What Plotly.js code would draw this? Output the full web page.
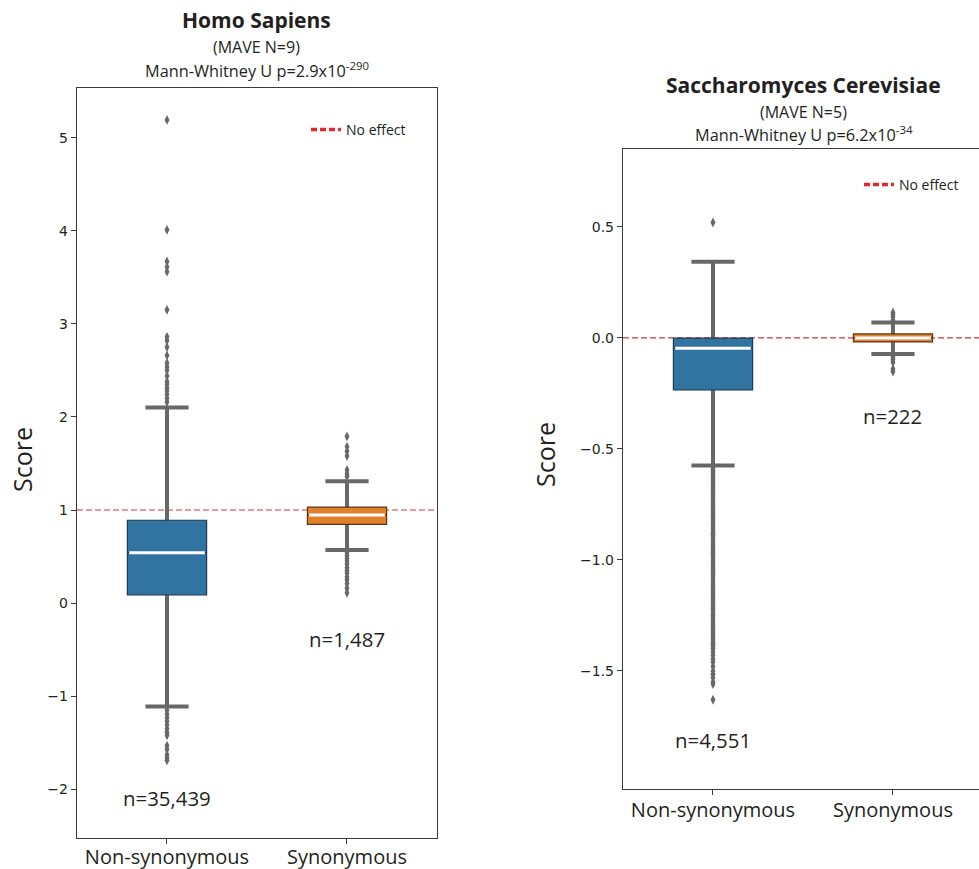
<!DOCTYPE html>
<html>
<head>
<meta charset="utf-8">
<script src="https://cdn.plot.ly/plotly-3.0.1.min.js"></script>
<style>html,body{margin:0;padding:0;background:#fff;}#chart{width:979px;height:869px;}</style>
</head>
<body>
<div id="chart"></div>
<script>
// ---------- data ----------
const categories = ['Non-synonymous', 'Synonymous'];

// Homo Sapiens
const hsQ1 = [0.087, 0.846];
const hsMedian = [0.54, 0.946];
const hsQ3 = [0.89, 1.03];
const hsLowerWhisker = [-1.11, 0.57];
const hsUpperWhisker = [2.10, 1.31];
const hsNonsynOutliers = [5.19, 4.01, 3.67, 3.61, 3.56, 3.15, 2.86, 2.82, 2.75, 2.66, 2.58, 2.54, 2.50, 2.44, 2.38, 2.35, 2.31, 2.28, 2.24, 2.20, 2.16,
  -1.15, -1.19, -1.23, -1.27, -1.31, -1.35, -1.39, -1.42, -1.53, -1.57, -1.63, -1.66, -1.69];
const hsSynOutliers = [1.36, 1.39, 1.43, 1.58, 1.63, 1.68, 1.79,
  0.54, 0.51, 0.48, 0.45, 0.42, 0.38, 0.35, 0.32, 0.28, 0.25, 0.21, 0.16, 0.11];
const hsCounts = ['n=35,439', 'n=1,487'];
const hsNoEffect = 1;

// Saccharomyces Cerevisiae
const scQ1 = [-0.234, -0.018];
const scMedian = [-0.046, 0.0];
const scQ3 = [-0.001, 0.018];
const scLowerWhisker = [-0.575, -0.072];
const scUpperWhisker = [0.343, 0.069];
const scNonsynOutliers = [0.52,
  -0.58, -0.59, -0.60, -0.61, -0.62, -0.63, -0.64, -0.65, -0.66, -0.67, -0.68, -0.69, -0.70, -0.71, -0.72, -0.73, -0.74,
  -0.75, -0.76, -0.77, -0.78, -0.79, -0.80, -0.81, -0.82, -0.83, -0.84, -0.85, -0.86, -0.87, -0.88, -0.89, -0.90, -0.91,
  -0.92, -0.93, -0.94, -0.95, -0.96, -0.97, -0.98, -0.99, -1.00, -1.01, -1.02, -1.03, -1.04, -1.05, -1.06, -1.07, -1.08,
  -1.09, -1.10, -1.11, -1.12, -1.13, -1.14, -1.15, -1.16, -1.17, -1.18, -1.19, -1.20, -1.21, -1.22, -1.23, -1.24, -1.25,
  -1.26, -1.27, -1.28, -1.29, -1.30, -1.31, -1.32, -1.33, -1.34, -1.35, -1.36, -1.37, -1.38, -1.39, -1.40, -1.415, -1.43,
  -1.445, -1.46, -1.48, -1.50, -1.515, -1.53, -1.55, -1.56, -1.63];
const scSynOutliers = [0.08, 0.095, 0.105, 0.115, -0.085, -0.097, -0.11, -0.14, -0.152];
const scCounts = ['n=4,551', 'n=222'];
const scNoEffect = 0;

// ---------- style ----------
const FONT = 'Open Sans, Noto Sans, sans-serif';
const TICKFONT = 'DejaVu Sans, sans-serif';
const TXT = '#231f20';
const GREY = '#686868';
const FILLS = ['#3274a1', '#e1812c'];
const EDGES = ['#1d3a52', '#5e3514'];
const BOXW = 0.44, CAPW = 0.24;

const traces = [];
function addPanel(xa, ya, q1, med, q3, lw, uw, outl) {
  for (let i = 0; i < 2; i++) {
    // whiskers + caps (box collapsed at median, hidden behind body)
    traces.push({type: 'box', xaxis: xa, yaxis: ya, x: [i], q1: [med[i]], median: [med[i]], q3: [med[i]],
      lowerfence: [lw[i]], upperfence: [uw[i]], width: CAPW, whiskerwidth: 1,
      line: {color: GREY, width: 4}, fillcolor: 'rgba(0,0,0,0)', hoverinfo: 'skip', showlegend: false});
    // body
    traces.push({type: 'box', xaxis: xa, yaxis: ya, x: [i], q1: [q1[i]], median: [med[i]], q3: [q3[i]],
      lowerfence: [q1[i]], upperfence: [q3[i]], width: BOXW, whiskerwidth: 0,
      line: {color: EDGES[i], width: 1.2}, fillcolor: FILLS[i], hoverinfo: 'skip', showlegend: false});
  }
  for (let i = 0; i < 2; i++) {
    traces.push({type: 'scatter', mode: 'lines', xaxis: xa, yaxis: ya,
      x: [i - BOXW / 2 + 0.01, i + BOXW / 2 - 0.01], y: [med[i], med[i]],
      line: {color: '#ffffff', width: 3}, hoverinfo: 'skip', showlegend: false});
    traces.push({type: 'scatter', mode: 'markers', xaxis: xa, yaxis: ya,
      x: outl[i].map(() => i), y: outl[i],
      marker: {symbol: 'diamond-tall', size: 7, color: GREY}, hoverinfo: 'skip', showlegend: false});
  }
}
addPanel('x', 'y', hsQ1, hsMedian, hsQ3, hsLowerWhisker, hsUpperWhisker, [hsNonsynOutliers, hsSynOutliers]);
addPanel('x2', 'y2', scQ1, scMedian, scQ3, scLowerWhisker, scUpperWhisker, [scNonsynOutliers, scSynOutliers]);

// legend entries
traces.push({type: 'scatter', mode: 'lines', x: [null], y: [null], xaxis: 'x', yaxis: 'y', name: 'No effect',
  line: {color: '#e3262c', width: 3.5, dash: '6px,3px'}, legend: 'legend'});
traces.push({type: 'scatter', mode: 'lines', x: [null], y: [null], xaxis: 'x2', yaxis: 'y2', name: 'No effect',
  line: {color: '#e3262c', width: 3.5, dash: '6px,3px'}, legend: 'legend2'});

const axisCommon = {
  showgrid: false, zeroline: false, showline: true, linecolor: '#3a3a3a', linewidth: 1.2,
  ticks: 'outside', ticklen: 5, tickcolor: '#3a3a3a', tickwidth: 1
};
const xCommon = Object.assign({}, axisCommon, {
  tickvals: [0, 1], ticktext: categories, tickfont: {family: FONT, size: 20, color: TXT}, ticklabelstandoff: -4
});

const layout = {
  width: 979, height: 869,
  margin: {l: 0, r: 0, t: 0, b: 0},
  paper_bgcolor: '#fff', plot_bgcolor: '#fff',
  boxmode: 'overlay',
  showlegend: true,
  xaxis: Object.assign({}, xCommon, {domain: [0.07865, 0.44637], range: [-0.5, 1.5], mirror: true}),
  yaxis: Object.assign({}, axisCommon, {domain: [0.03567, 0.89873], range: [-2.523, 5.533], mirror: true,
    tickvals: [-2, -1, 0, 1, 2, 3, 4, 5], tickfont: {family: TICKFONT, size: 14, color: TXT}}),
  xaxis2: Object.assign({}, xCommon, {domain: [0.63637, 1], range: [-0.5, 1.478], mirror: true, anchor: 'y2', ticklabelstandoff: -2}),
  yaxis2: Object.assign({}, axisCommon, {domain: [0.09206, 0.82854], range: [-2.032, 0.851], anchor: 'x2',
    tickvals: [-1.5, -1.0, -0.5, 0.0, 0.5], tickformat: '.1f', tickfont: {family: TICKFONT, size: 14, color: TXT}}),
  legend: {x: 0.3126, y: 0.8504, xanchor: 'left', yanchor: 'middle', bgcolor: 'rgba(0,0,0,0)',
    font: {family: FONT, size: 14, color: TXT}},
  legend2: {x: 0.8774, y: 0.7871, xanchor: 'left', yanchor: 'middle', bgcolor: 'rgba(0,0,0,0)',
    font: {family: FONT, size: 14, color: TXT}},
  shapes: [
    {type: 'line', xref: 'x domain', yref: 'y', x0: 0, x1: 1, y0: hsNoEffect, y1: hsNoEffect, layer: 'below',
      line: {color: '#d8323a', width: 1.2, dash: '6px,3px'}},
    {type: 'line', xref: 'x2 domain', yref: 'y2', x0: 0, x1: 1, y0: scNoEffect, y1: scNoEffect, layer: 'below',
      line: {color: '#d8323a', width: 1.2, dash: '6px,3px'}}
  ],
  annotations: [
    {xref: 'paper', yref: 'paper', x: 0.2625, y: 0.9770, text: '<b>Homo Sapiens</b>', showarrow: false,
      xanchor: 'center', yanchor: 'middle', font: {family: FONT, size: 21, color: TXT}},
    {xref: 'paper', yref: 'paper', x: 0.2625, y: 0.9459, text: '(MAVE N=9)', showarrow: false,
      xanchor: 'center', yanchor: 'middle', font: {family: FONT, size: 16, color: TXT}},
    {xref: 'paper', yref: 'paper', x: 0.2625, y: 0.9194, text: 'Mann-Whitney U p=2.9x10<sup>-290</sup>', showarrow: false,
      xanchor: 'center', yanchor: 'middle', font: {family: FONT, size: 16.3, color: TXT}},
    {xref: 'paper', yref: 'paper', x: 0.8212, y: 0.9022, text: '<b>Saccharomyces Cerevisiae</b>', showarrow: false,
      xanchor: 'center', yanchor: 'middle', font: {family: FONT, size: 21, color: TXT}},
    {xref: 'paper', yref: 'paper', x: 0.8212, y: 0.8711, text: '(MAVE N=5)', showarrow: false,
      xanchor: 'center', yanchor: 'middle', font: {family: FONT, size: 16, color: TXT}},
    {xref: 'paper', yref: 'paper', x: 0.8212, y: 0.8458, text: 'Mann-Whitney U p=6.2x10<sup>-34</sup>', showarrow: false,
      xanchor: 'center', yanchor: 'middle', font: {family: FONT, size: 16.3, color: TXT}},
    {xref: 'paper', yref: 'paper', x: 0.0225, y: 0.4707, text: 'Score', textangle: -90, showarrow: false,
      xanchor: 'center', yanchor: 'middle', font: {family: FONT, size: 25, color: TXT}},
    {xref: 'paper', yref: 'paper', x: 0.5567, y: 0.4764, text: 'Score', textangle: -90, showarrow: false,
      xanchor: 'center', yanchor: 'middle', font: {family: FONT, size: 25, color: TXT}},
    {xref: 'x', yref: 'y', x: 0, y: -2.09, text: hsCounts[0], showarrow: false, font: {family: FONT, size: 20.4, color: TXT}},
    {xref: 'x', yref: 'y', x: 1, y: -0.386, text: hsCounts[1], showarrow: false, font: {family: FONT, size: 20.4, color: TXT}},
    {xref: 'x2', yref: 'y2', x: 0, y: -1.813, text: scCounts[0], showarrow: false, font: {family: FONT, size: 20.4, color: TXT}},
    {xref: 'x2', yref: 'y2', x: 1, y: -0.354, text: scCounts[1], showarrow: false, font: {family: FONT, size: 20.4, color: TXT}}
  ]
};

Plotly.newPlot('chart', traces, layout, {staticPlot: true});
</script>
</body>
</html>
